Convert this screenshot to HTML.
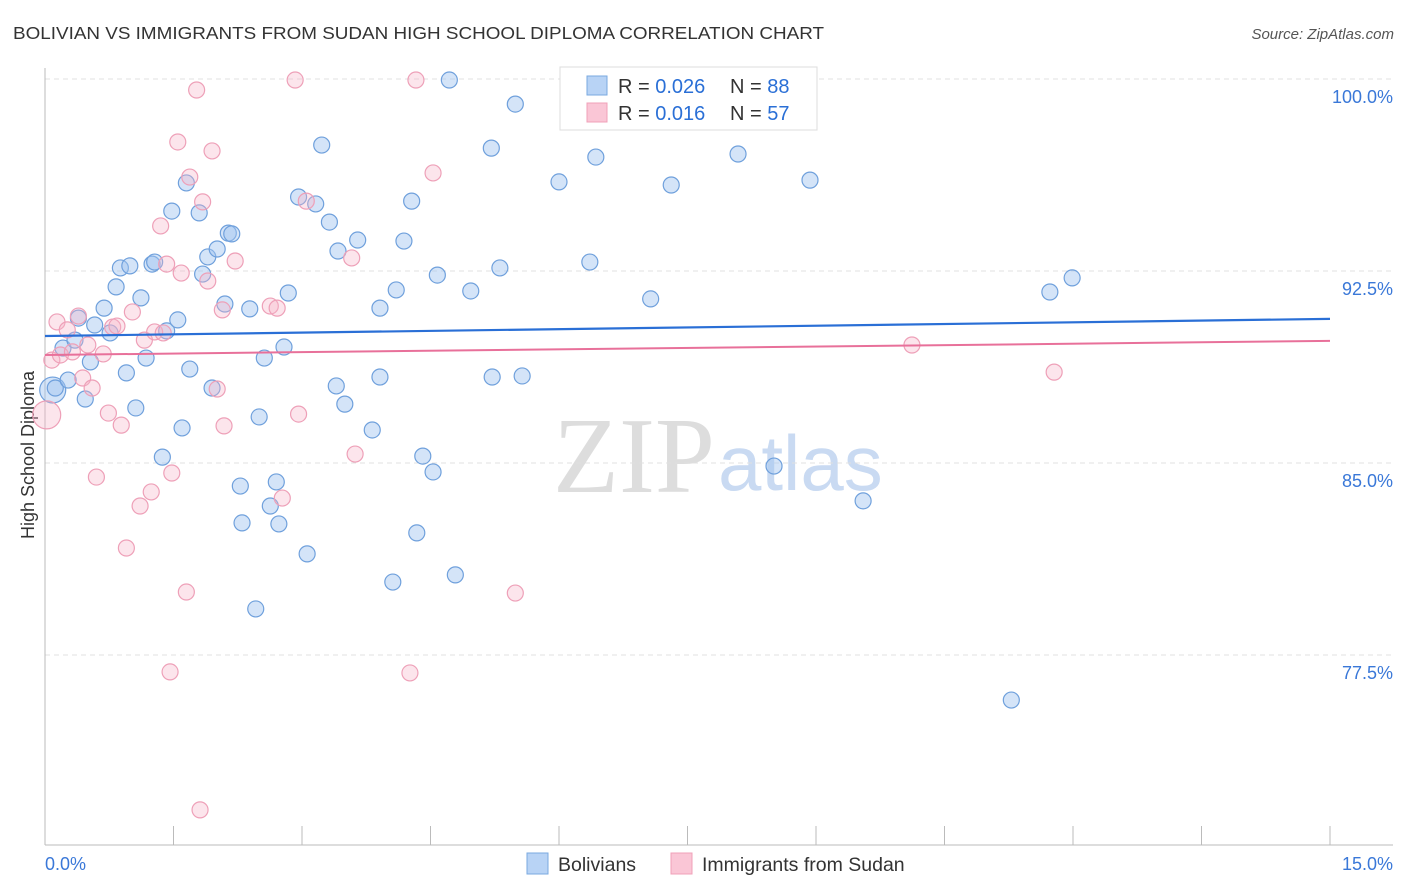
<!DOCTYPE html>
<html><head><meta charset="utf-8"><style>
body{margin:0;background:#fff;font-family:"Liberation Sans",sans-serif}
svg{display:block}
</style></head><body>
<svg id="c" width="1406" height="892">
<text x="13" y="39" font-size="17.5" fill="#333" textLength="811" lengthAdjust="spacingAndGlyphs">BOLIVIAN VS IMMIGRANTS FROM SUDAN HIGH SCHOOL DIPLOMA CORRELATION CHART</text>
<text x="1394" y="39" font-size="15" fill="#555" font-style="italic" text-anchor="end">Source: ZipAtlas.com</text>
<text x="0" y="0" transform="translate(34,455) rotate(-90)" font-size="18" fill="#333" text-anchor="middle">High School Diploma</text>
<g><text x="553" y="492" font-size="108" font-family="Liberation Serif,serif" fill="#ddd">ZIP</text><text x="718" y="490" font-size="78" fill="#c9daf2">atlas</text></g>
<g id="grid"></g><g id="axes"></g><g id="pts"></g><g id="lines"></g>
<g>
<rect x="560" y="67" width="257" height="63" fill="#fff" stroke="#ddd"/>
<rect x="587" y="76" width="20" height="19" fill="#b8d3f5" stroke="#7aaae0"/>
<rect x="587" y="103" width="20" height="19" fill="#fac6d6" stroke="#f0a0b8"/>
<text x="618" y="93" font-size="20" fill="#333">R = <tspan fill="#2a6fd6">0.026</tspan></text>
<text x="730" y="93" font-size="20" fill="#333">N = <tspan fill="#2a6fd6">88</tspan></text>
<text x="618" y="120" font-size="20" fill="#333">R = <tspan fill="#2a6fd6"> 0.016</tspan></text>
<text x="730" y="120" font-size="20" fill="#333">N = <tspan fill="#2a6fd6">57</tspan></text>
</g>
<g>
<rect x="527" y="853" width="21" height="21" fill="#b8d3f5" stroke="#7aaae0"/>
<text x="558" y="871" font-size="19.5" fill="#333">Bolivians</text>
<rect x="671" y="853" width="21" height="21" fill="#fac6d6" stroke="#f0a0b8"/>
<text x="702" y="871" font-size="19.5" fill="#333">Immigrants from Sudan</text>
</g>
</svg>
<script>
const blueX=[0.09,0.12,0.21,0.27,0.35,0.39,0.47,0.53,0.58,0.69,0.76,0.83,0.88,0.95,0.99,1.06,1.12,1.18,1.25,1.28,1.37,1.42,1.48,1.55,1.60,1.65,1.69,1.80,1.84,1.90,1.95,2.01,2.10,2.14,2.18,2.28,2.30,2.39,2.46,2.50,2.56,2.63,2.70,2.73,2.79,2.84,2.96,3.06,3.16,3.23,3.32,3.40,3.42,3.50,3.65,3.82,3.91,3.91,4.06,4.10,4.19,4.28,4.34,4.41,4.53,4.58,4.72,4.79,4.97,5.21,5.22,5.31,5.49,5.57,6.00,6.36,6.43,7.07,7.31,8.09,8.51,8.93,9.55,11.28,11.73,11.99];
const blueY=[87.85,87.93,89.49,88.24,89.80,90.66,87.50,88.95,90.39,91.05,90.08,91.88,92.62,88.52,92.70,87.15,91.45,89.10,92.77,92.85,85.23,90.16,94.84,90.59,86.37,95.94,88.67,94.77,92.38,93.05,87.93,93.36,91.21,93.98,93.95,84.10,82.66,91.02,79.30,86.80,89.10,83.32,84.26,82.62,89.53,91.64,95.39,81.45,95.12,97.42,94.41,88.01,93.28,87.30,93.71,86.29,88.36,91.05,80.35,91.76,93.67,95.23,82.27,85.27,84.65,92.34,99.96,80.63,91.72,97.30,88.36,92.62,99.02,88.40,95.98,92.85,96.95,91.41,95.86,97.07,84.88,96.05,83.52,75.74,91.68,92.23];
const blueR=[13,8];
const pinkX=[0.02,0.08,0.14,0.18,0.26,0.32,0.39,0.44,0.50,0.55,0.60,0.68,0.74,0.79,0.84,0.89,0.95,1.02,1.11,1.16,1.24,1.28,1.35,1.38,1.42,1.46,1.48,1.55,1.59,1.65,1.69,1.77,1.81,1.84,1.90,1.95,2.01,2.07,2.09,2.22,2.63,2.71,2.77,2.92,2.96,3.05,3.58,3.62,4.26,4.33,4.53,5.49,10.12,11.78];
const pinkY=[86.88,89.02,90.51,89.22,90.20,89.34,90.74,88.32,89.61,87.93,84.45,89.26,86.95,90.31,90.35,86.48,81.68,90.90,83.32,89.80,83.87,90.12,94.26,90.08,92.77,76.84,84.61,97.54,92.42,79.96,96.17,99.57,71.45,95.20,92.11,97.19,87.89,90.98,86.45,92.89,91.13,91.05,83.63,99.96,86.91,95.23,93.01,85.35,76.80,99.96,96.33,79.92,89.61,88.55];
const blueTrend=[89.96,90.63];
const pinkTrend=[89.22,89.77];
const yTicks=[100,92.5,85,77.5];
const yTickLabels=["100.0%","92.5%","85.0%","77.5%"];
const xTickLabels=["0.0%","15.0%"];
const NS="http://www.w3.org/2000/svg";
const X0=45,X1=1330,Y100=79,PXPCT=25.6;
const sx=v=>X0+(v/15)*(X1-X0);
const sy=v=>Y100+(100-v)*PXPCT;
function mk(t,a,p){const e=document.createElementNS(NS,t);for(const k in a)e.setAttribute(k,a[k]);p.appendChild(e);return e;}
const grid=document.getElementById('grid'),axes=document.getElementById('axes'),pts=document.getElementById('pts'),lines=document.getElementById('lines');
yTicks.forEach((v,i)=>{
 const l=mk('line',{x1:X0,x2:1393,y1:sy(v),y2:sy(v),stroke:'#e0e0e0','stroke-dasharray':'5,4'},grid);
 
 
 const t=mk('text',{x:1393,y:sy(v)+24,'font-size':18,fill:'#3a78d8','text-anchor':'end'},axes);
 t.textContent=yTickLabels[i];
 
 
});
let a=mk('line',{x1:X0,x2:X0,y1:68,y2:845,stroke:'#bbb'},axes);


a=mk('line',{x1:X0,x2:1393,y1:845,y2:845,stroke:'#bbb'},axes);


for(let i=0;i<=10;i++){const x=sx(i*1.5);const t=mk('line',{x1:x,x2:x,y1:826,y2:845,stroke:'#bbb'},axes);
 
 }
[[0,'start',45],[15,'end',1393]].forEach((d,i)=>{const t=mk('text',{x:d[2],y:870,'font-size':18,fill:'#3a78d8','text-anchor':d[1]},axes);t.textContent=xTickLabels[i];
 
 });
blueX.forEach((x,i)=>{const c=mk('circle',{cx:sx(x),cy:sy(blueY[i]),r:i===0?blueR[0]:blueR[1],fill:'rgba(160,196,240,0.45)',stroke:'#6fa0dc','stroke-width':1.2},pts);
 
 });
pinkX.forEach((x,i)=>{const c=mk('circle',{cx:sx(x),cy:sy(pinkY[i]),r:i===0?14:8,fill:'rgba(245,180,200,0.35)',stroke:'#eea0b8','stroke-width':1.2},pts);
 
 });
let tl=mk('line',{x1:sx(0),x2:sx(15),y1:sy(blueTrend[0]),y2:sy(blueTrend[1]),stroke:'#2a6fd6','stroke-width':2.2},lines);


tl=mk('line',{x1:sx(0),x2:sx(15),y1:sy(pinkTrend[0]),y2:sy(pinkTrend[1]),stroke:'#e8709a','stroke-width':2},lines);


</script>
</body></html>
